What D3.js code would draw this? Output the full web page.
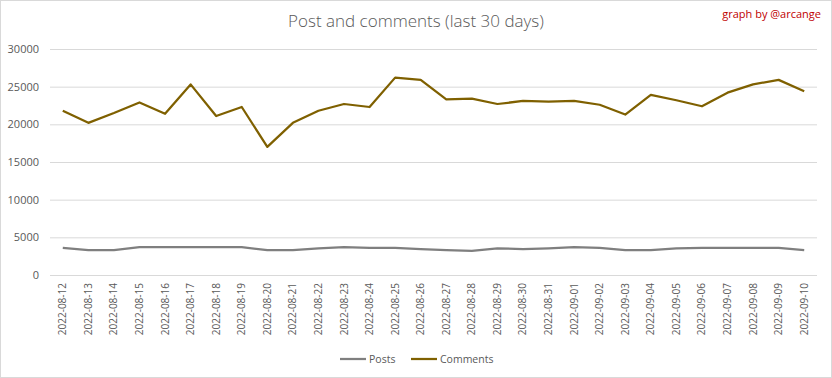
<!DOCTYPE html>
<meta charset="utf-8">
<style>
    body {
        margin: 0;
        background-color: #fff;
    }

    .tick text {
        font: 400 11px "Open Sans", "Liberation Sans", sans-serif;
        fill: #595959;
    }

    .xaxis .tick text {
        font-size: 10px;
    }

    .legend text {
        font: 400 10.5px "Open Sans", "Liberation Sans", sans-serif;
        fill: #595959;
    }
</style>

<body>
    <script src="https://d3js.org/d3.v7.min.js"></script>
    <script>

        var days = ["2022-08-12", "2022-08-13", "2022-08-14", "2022-08-15", "2022-08-16", "2022-08-17",
            "2022-08-18", "2022-08-19", "2022-08-20", "2022-08-21", "2022-08-22", "2022-08-23",
            "2022-08-24", "2022-08-25", "2022-08-26", "2022-08-27", "2022-08-28", "2022-08-29",
            "2022-08-30", "2022-08-31", "2022-09-01", "2022-09-02", "2022-09-03", "2022-09-04",
            "2022-09-05", "2022-09-06", "2022-09-07", "2022-09-08", "2022-09-09", "2022-09-10"];

        var posts = [3600, 3300, 3300, 3700, 3700, 3700, 3700, 3700, 3300, 3300, 3550, 3700,
            3600, 3600, 3450, 3300, 3200, 3550, 3450, 3550, 3700, 3600, 3300, 3300,
            3550, 3600, 3600, 3600, 3600, 3300];

        var comments = [21800, 20200, 21500, 22900, 21400, 25300, 21100, 22300, 17000, 20200, 21800, 22700,
            22300, 26200, 25900, 23300, 23400, 22700, 23100, 23000, 23100, 22600, 21300, 23900,
            23200, 22400, 24200, 25300, 25900, 24400];

        var yTicks = [0, 5000, 10000, 15000, 20000, 25000, 30000];

        var series = [
            { name: "Posts", values: posts, color: "#7f7f7f" },
            { name: "Comments", values: comments, color: "#7f6000" }
        ];

        var width = 832, height = 378;
        var margin = { top: 49, right: 15, bottom: 103, left: 50 };

        var svg = d3.select("body").append("svg")
            .attr("width", width)
            .attr("height", height);

        // outer chart frame
        svg.append("rect")
            .attr("x", 0.5).attr("y", 0.5)
            .attr("width", width - 1).attr("height", height - 1)
            .attr("fill", "#fff")
            .attr("stroke", "#d9d9d9");

        var x = d3.scaleBand()
            .domain(days)
            .range([margin.left, width - margin.right]);

        var y = d3.scaleLinear()
            .domain([0, 30000])
            .range([height - margin.bottom, margin.top]);

        // gridlines + y labels
        var yAxis = svg.append("g")
            .attr("transform", "translate(" + margin.left + ",0)")
            .call(d3.axisLeft(y).tickValues(yTicks).tickFormat(d3.format("d"))
                .tickSize(-(width - margin.left - margin.right)).tickPadding(11));
        yAxis.select(".domain").remove();
        yAxis.selectAll(".tick line").attr("stroke", "#d9d9d9");

        // x labels
        var xAxis = svg.append("g")
            .attr("class", "xaxis")
            .attr("transform", "translate(0," + (height - margin.bottom) + ")")
            .call(d3.axisBottom(x).tickSize(0));
        xAxis.select(".domain").remove();
        xAxis.selectAll(".tick text")
            .attr("transform", "rotate(-90)")
            .attr("text-anchor", "end")
            .attr("x", -8)
            .attr("y", 0)
            .attr("dy", "0.35em");

        var line = d3.line()
            .x(function (d, i) { return x(days[i]) + x.bandwidth() / 2; })
            .y(function (d) { return y(d); });

        svg.append("g").selectAll("path")
            .data(series)
            .enter().append("path")
            .attr("d", function (d) { return line(d.values); })
            .attr("fill", "none")
            .attr("stroke", function (d) { return d.color; })
            .attr("stroke-width", 2.25)
            .attr("stroke-linejoin", "round");

        svg.append("text")
            .attr("x", 416).attr("y", 27)
            .attr("text-anchor", "middle")
            .style("font", "300 17px 'Open Sans', 'Liberation Sans', sans-serif")
            .attr("fill", "#595959")
            .text("Post and comments (last 30 days)");

        svg.append("text")
            .attr("x", 821).attr("y", 18)
            .attr("text-anchor", "end")
            .style("font", "400 11px 'Open Sans', 'Liberation Sans', sans-serif")
            .attr("fill", "#c00000")
            .text("graph by @arcange");

        // legend
        var legend = svg.append("g").attr("class", "legend");
        var lx = [340, 411];
        series.forEach(function (s, i) {
            legend.append("line")
                .attr("x1", lx[i]).attr("x2", lx[i] + 26)
                .attr("y1", 359).attr("y2", 359)
                .attr("stroke", s.color).attr("stroke-width", 2.25);
            legend.append("text")
                .attr("x", lx[i] + 29).attr("y", 359)
                .attr("dy", "0.35em")
                .text(s.name);
        });

    </script>
</body>
